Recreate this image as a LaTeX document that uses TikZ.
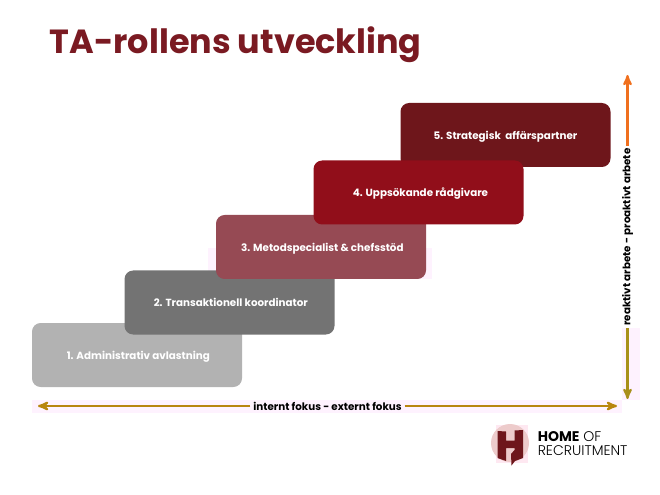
\documentclass[tikz,border=0pt]{standalone}
\usepackage{fontspec}
\setmainfont{Poppins}
\newfontfamily\logolight{Poppins Light}
\usetikzlibrary{arrows, positioning}
\definecolor{titlered}{HTML}{7A1A22}
\definecolor{stepone}{HTML}{B2B2B2}
\definecolor{steptwo}{HTML}{737373}
\definecolor{stepthree}{HTML}{964A54}
\definecolor{stepfour}{HTML}{910E1A}
\definecolor{stepfive}{HTML}{6E161B}
\definecolor{axisgold}{HTML}{B8860F}
\definecolor{axisolive}{HTML}{A8901A}
\definecolor{axisorange}{HTML}{F0701E}
\definecolor{paleband}{HTML}{FEF2FE}
\tikzstyle{stairbox} = [rectangle, rounded corners=6.5pt, minimum width=157.5pt, minimum height=48pt, inner sep=0pt, text=white, text height=6.2pt, text depth=0pt, font=\bfseries\fontsize{7.75}{9}\selectfont]
\tikzstyle{axislabel} = [inner sep=2pt, font=\bfseries\fontsize{7.75}{9}\selectfont]
\tikzstyle{axisarrow} = [-{>}, line width=1.6pt, >=stealth']
\begin{document}
\begin{tikzpicture}[x=0.75pt, y=-0.75pt]
		\useasboundingbox (0,0) rectangle (660,495);
		\fill [paleband] (32,400) rectangle (622,413);
		\fill [paleband] (622,328) rectangle (640,400);
		\fill [paleband] (208,248) rectangle (432,279);
		\node (title) [anchor=west, inner sep=0pt, text=titlered, font=\bfseries\fontsize{25.1}{30}\selectfont] at (49.5,44.5) {TA-rollens utveckling};
		\node (admin) [stairbox, fill=stepone] at (137,355) {\hspace*{2pt}1. Administrativ avlastning};
		\node (koord) [stairbox, fill=steptwo] at (229.5,302.5) {\hspace*{2pt}2. Transaktionell koordinator};
		\node (metod) [stairbox, fill=stepthree] at (321,247) {\hspace*{2pt}3. Metodspecialist \& chefsstöd};
		\node (partner) [stairbox, fill=stepfive] at (505.5,135) {5. Strategisk\ \ affärspartner};
		\node (radgiv) [stairbox, fill=stepfour] at (418.5,192.5) {\hspace*{3pt}4. Uppsökande rådgivare};
		\node (fokus) [axislabel] at (327.5,406) {internt fokus - externt fokus};
		\node (arbete) [axislabel, rotate=90] at (627.5,237) {reaktivt arbete - proaktivt arbete};
		\coordinate (internt) at (38,406);
		\coordinate (externt) at (617,406);
		\coordinate (reaktivt) at (627.5,399);
		\coordinate (proaktivt) at (627.5,75);
		\draw [axisarrow, axisgold] (fokus) -- (internt);
		\draw [axisarrow, axisgold] (fokus) -- (externt);
		\draw [axisarrow, axisolive] (arbete) -- (reaktivt);
		\draw [axisarrow, axisorange] (arbete) -- (proaktivt);
		\fill [paleband!80!pink] (496,425) rectangle (528,463);
		\fill [black!12!pink!60!white] (510,443) circle [radius=19];
		\fill [stepfive] (497.5,431) -- (506,431.5) -- (506,440.5) -- (514.5,440.5) -- (514.5,430.5) -- (523,430) -- (523,458) -- (515,461) -- (511.5,465.5) -- (511,454) -- (514.5,450) -- (514.5,448) -- (506,448) -- (506,461) -- (497.5,458) -- cycle;
		\node (logotext) [anchor=west, inner sep=0pt, align=left, font=\logolight\fontsize{10.5}{10.5}\selectfont] at (537.5,444) {{\setmainfont{Poppins}\bfseries HOME} OF\\RECRUITMENT};
	\end{tikzpicture}
\end{document}
